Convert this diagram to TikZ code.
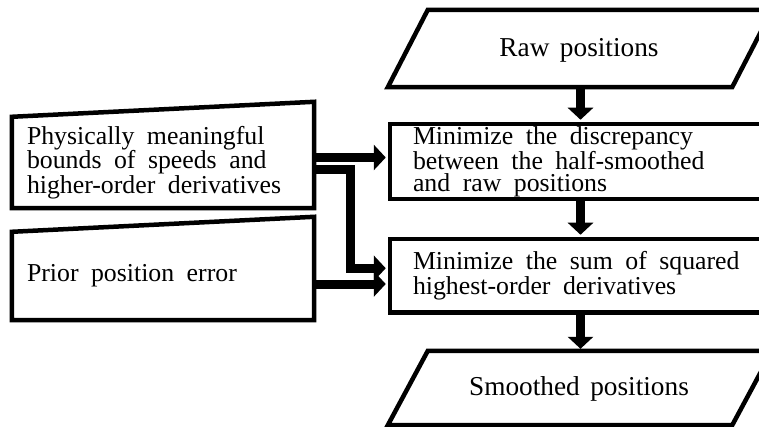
\documentclass[tikz,border=0pt]{standalone}
\usepackage{fontspec}
\setmainfont{Liberation Serif}
\usetikzlibrary{arrows.meta,calc}
\newcommand\myBoxFont{\fontsize{25.8pt}{22pt}\selectfont}
\newcommand\myIoFont{\fontsize{27.3pt}{30pt}\selectfont\spaceskip 10.5pt\relax}
\newcommand\wsp{\spaceskip 12.5pt\relax\xspaceskip 12.5pt\relax}
\begin{document}
\begin{tikzpicture}[x=1pt,y=-1pt,
  border/.style={draw=black,line width=4.5pt,line join=miter},
  boxtxt/.style={font=\myBoxFont},
  iotxt/.style={font=\myIoFont},
  flow/.style={draw=black,line width=9pt,line join=miter,-{Triangle[width=25pt,length=12pt]},shorten >=2pt}]
\useasboundingbox (0,0) rectangle (759,427);
\fill[white] (0,0) rectangle (759,427);
\clip (0,0) rectangle (759,427);

% input / output parallelograms
\node[iotxt, inner sep=0pt, minimum width=344pt, minimum height=77pt, text height=22.4pt, text depth=6pt] (raw) at (579,48.5) {Raw positions};
\node[iotxt, inner sep=0pt, minimum width=344pt, minimum height=74pt, text height=20pt, text depth=6pt] (sm) at (579,388) {Smoothed positions};
\draw[border] ($(raw.south west)+(-19,0)$) -- ($(raw.south east)+(-19,0)$) -- ($(raw.north east)+(21,0)$) -- ($(raw.north west)+(21,0)$) -- cycle;
\draw[border] ($(sm.south west)+(-19,0)$) -- ($(sm.south east)+(-19,0)$) -- ($(sm.north east)+(21,0)$) -- ($(sm.north west)+(21,0)$) -- cycle;

% process boxes
\node[boxtxt, border, inner sep=0pt, minimum width=390pt, minimum height=75pt, text width=344pt, align=left] (min1) at (585,161.5) {\wsp Minimize the discrepancy\\between the half-smoothed\\and raw positions};
\node[boxtxt, border, inner sep=0pt, minimum width=390pt, minimum height=73.5pt, text width=344pt, align=left] (min2) at (585,275.75) {\wsp Minimize the sum of squared\\highest-order derivatives};

% manual inputs
\node[boxtxt, inner sep=0pt, minimum width=302pt, minimum height=91pt, text width=272pt, align=left] (bounds) at (163,162.5) {\wsp Physically meaningful\\bounds of speeds and\\higher-order derivatives};
\node[boxtxt, inner sep=0pt, minimum width=302pt, minimum height=88pt, text width=272pt, align=left] (prior) at (163,276) {\wsp Prior position error};
\draw[border] (bounds.south west) -- (bounds.south east) -- ([yshift=15pt]bounds.north east) -- (bounds.north west) -- cycle;
\draw[border] (prior.south west) -- (prior.south east) -- ([yshift=15pt]prior.north east) -- (prior.north west) -- cycle;

% connectors
\coordinate (vx) at (580.5,0);
\draw[flow] (raw.south -| vx) -- (min1.north -| vx);
\draw[flow] (min1.south -| vx) -- (min2.north -| vx);
\draw[flow] (min2.south -| vx) -- (sm.north -| vx);
\draw[flow] ([yshift=5pt]bounds.east) -- ([yshift=5pt]bounds.east -| min1.west);
\draw[flow] ([yshift=-7.5pt]bounds.east) -- ++(36,0) |- ([yshift=7.5pt]min2.west);
\draw[flow] ([yshift=-8pt]prior.east) -- ([yshift=-8pt]prior.east -| min2.west);
\end{tikzpicture}
\end{document}
